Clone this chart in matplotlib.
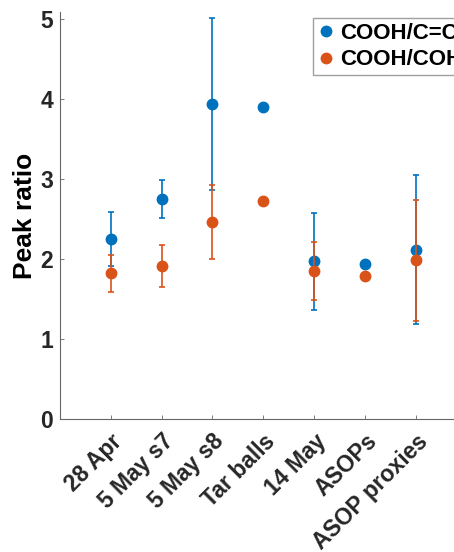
import numpy as np
import matplotlib
matplotlib.use('Agg')
import matplotlib.pyplot as plt

plt.rcParams['font.family'] = ['Liberation Sans', 'DejaVu Sans']
plt.rcParams['font.weight'] = 'bold'

# data
samples = ['28 Apr', '5 May s7', '5 May s8', 'Tar balls', '14 May', 'ASOPs', 'ASOP proxies']

cc_mean = [2.25, 2.75, 3.94, 3.90, 1.97, 1.93, 2.11]
cc_low = [1.91, 2.51, 2.86, np.nan, 1.36, np.nan, 1.19]
cc_high = [2.59, 2.99, 5.01, np.nan, 2.57, np.nan, 3.05]

coh_mean = [1.82, 1.91, 2.46, 2.73, 1.85, 1.78, 1.99]
coh_low = [1.58, 1.65, 2.00, np.nan, 1.49, np.nan, 1.22]
coh_high = [2.05, 2.17, 2.92, np.nan, 2.21, np.nan, 2.74]

blue = '#0072BD'
orange = '#D95319'

fig = plt.figure(figsize=(4.54, 5.52), dpi=100)
# axes run past the right edge of the canvas, like the cropped original
ax = fig.add_axes([0.132, 0.2415, 0.896, 0.7362])

x = np.arange(1, len(samples) + 1)


def draw(mean, low, high, color, label):
    mean = np.array(mean)
    err = np.array([mean - np.array(low), np.array(high) - mean])
    ax.errorbar(x, mean, yerr=err, fmt='none', ecolor=color, elinewidth=1.2,
                capsize=2.5, capthick=1.2)
    ax.plot(x, mean, 'o', color=color, markersize=7.5, label=label)


draw(cc_mean, cc_low, cc_high, blue, 'COOH/C=C')
draw(coh_mean, coh_low, coh_high, orange, 'COOH/COH')

ax.set_xlim(0, 8)
ax.set_ylim(0, 5.085)
ax.set_yticks([0, 1, 2, 3, 4, 5])
ax.set_xticks(x)
ax.set_xticklabels(samples, rotation=45, ha='right', va='top',
                   rotation_mode='anchor')

for s in ['top', 'right']:
    ax.spines[s].set_visible(False)
for s in ['left', 'bottom']:
    ax.spines[s].set_color('#666666')
    ax.spines[s].set_linewidth(0.8)

ax.tick_params(direction='in', length=3, width=0.6, color='#666666',
               labelsize=16.5, labelcolor='#262626')
ax.tick_params(axis='x', pad=8)
ax.tick_params(axis='y', pad=5)

ax.set_ylabel('Peak ratio', fontsize=19, fontweight='bold', labelpad=2)

leg = ax.legend(loc='upper left', bbox_to_anchor=(313 / 454, 1 - 18 / 552),
                bbox_transform=fig.transFigure, fontsize=16, frameon=True,
                fancybox=False, handletextpad=0.3, handlelength=0.7,
                borderaxespad=0, borderpad=0.22, labelspacing=0.25)
leg.get_frame().set_edgecolor('#888888')
leg.get_frame().set_linewidth(1.0)

fig.savefig('out.png', dpi=100)
